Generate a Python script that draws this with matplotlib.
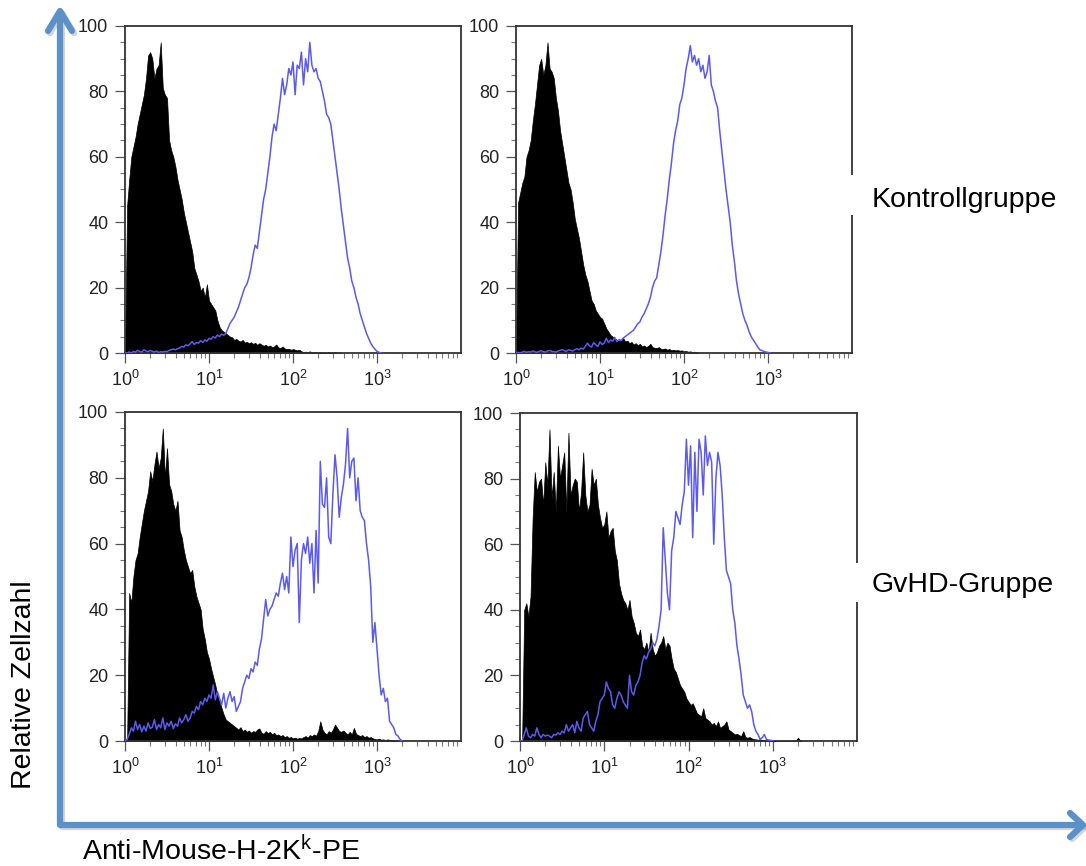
import numpy as np
import matplotlib
matplotlib.use("Agg")
import matplotlib.pyplot as plt
from matplotlib.ticker import FixedLocator, FixedFormatter, LogLocator, MultipleLocator, NullFormatter
from matplotlib.patches import Rectangle
import matplotlib.patheffects as pe

plt.rcParams["font.family"] = ["Liberation Sans", "DejaVu Sans"]
plt.rcParams["mathtext.fontset"] = "custom"
plt.rcParams["mathtext.rm"] = "Liberation Sans"
plt.rcParams["mathtext.it"] = "Liberation Sans:italic"
plt.rcParams["xtick.labelsize"] = 13
plt.rcParams["ytick.labelsize"] = 13

# histogram channels: 40 channels per decade, channel 0 sits at 10^0
CHANNELS_PER_DECADE = 40

# --- Kontrollgruppe, tier 1 ---
ctrl_a_isotype = [
    0, 45, 53, 60, 63, 66, 70, 73, 76, 79,
    84, 91, 92, 90, 84, 87, 88, 95, 81, 79,
    78, 65, 62, 60, 57, 53, 50, 47, 43, 40,
    37, 34, 31, 26, 24, 22, 19, 20, 17, 21,
    16, 15, 14, 13, 10, 8, 7, 6.5, 6, 5.5,
    5, 4.8, 4, 4.3, 3.8, 3.5, 4, 3.2, 3.4, 3,
    3.3, 2.8, 3.1, 2.5, 3, 2.6, 2.2, 2.5, 2, 2.3,
    1.8, 2, 2.6, 1.7, 1.5, 2, 1.4, 1.2, 1.3, 1,
    1.2, 1, 0.8, 1, 0.5, 0.3, 0.4, 0.3, 0.5, 0.2,
    0.3, 0.2, 0.1, 0.3, 0.1, 0.2, 0.1, 0.3, 0.1, 0.2,
    0.3, 0.1, 0.2, 0,
]
ctrl_a_h2kk = [
    0, 0, 0.3, 0, 0.5, 0.3, 0.8, 0.5, 0.3, 1,
    0.6, 0.4, 0.8, 0.5, 0.3, 0.6, 0.2, 0.4, 0.3, 0.5,
    0.4, 0.8, 1, 1.2, 1, 1.3, 1.5, 2, 1.8, 2.5,
    2.2, 2.8, 3.5, 2.6, 3.2, 3, 3.8, 3.2, 4, 3.6,
    4.5, 4.2, 5, 4.6, 5.5, 5, 5.8, 5.4, 6, 7.5,
    9, 10, 11, 12.5, 14, 16, 18, 20, 21, 23,
    26, 30, 33, 32, 37, 42, 47, 50, 55, 60,
    66, 70, 68, 73, 78, 84, 79, 82, 87, 85,
    89, 79, 88, 87, 92, 82, 90, 86, 95, 88,
    86, 87, 84, 83, 80, 77, 73, 72, 70, 65,
    60, 55, 50, 44, 39, 34, 29, 26, 22, 20,
    17, 15, 12, 10, 8, 6, 4.5, 3, 2, 1.2,
    0.5, 0.2, 0,
]

# --- Kontrollgruppe, tier 2 ---
ctrl_b_isotype = [
    0, 46, 49, 52, 54, 60, 62, 65, 71, 76,
    82, 88, 90, 85, 88, 95, 87, 86, 84, 78,
    74, 68, 64, 60, 56, 52, 50, 46, 41, 38,
    35, 31, 27, 24, 22, 19, 16, 15, 13, 12,
    11, 10.5, 9, 7.5, 6.5, 5.5, 5, 4.5, 4, 4.2,
    3.8, 4.6, 3.5, 3.8, 3, 3.4, 2.6, 3, 2.4, 2.8,
    2, 2.3, 1.8, 2.2, 2.8, 1.8, 1.6, 1.5, 1.8, 1.3,
    1.2, 1.4, 1, 1.2, 0.9, 1, 0.8, 0.9, 0.7, 0.8,
    0.5, 0.6, 0.4, 0.5, 0.3, 0.4, 0.2, 0,
]
ctrl_b_h2kk = [
    0, 0.2, 0, 0.3, 0.5, 0.2, 0.4, 0.3, 0.6, 0.4,
    0.2, 0.5, 0.7, 0.4, 0.3, 0.6, 0.8, 0.5, 0.4, 0.3,
    0.6, 0.8, 1, 0.7, 0.5, 1, 0.8, 0.6, 1, 1.3,
    1, 1.5, 1.2, 2, 3, 2.2, 1.8, 3.2, 2.5, 2,
    3.4, 2.6, 3, 4.5, 3.2, 4, 3.6, 4.8, 3.5, 4,
    3.8, 4.5, 5, 5.5, 6, 6.5, 7, 8, 9, 9.5,
    11, 12, 13.5, 15, 17, 20, 22, 23, 27, 31,
    36, 42, 47, 53, 58, 64, 68, 71, 76, 78,
    82, 87, 90, 94, 89, 91, 88, 90, 86, 88,
    84, 86, 91, 82, 80, 77, 75, 68, 62, 56,
    50, 45, 40, 33, 28, 22, 18, 15, 12, 10,
    8.5, 6.5, 5, 4, 3, 2, 1, 0.8, 0.5, 0.3,
    0.2, 0,
]

# --- GvHD-Gruppe, tier 1 ---
gvhd_a_isotype = [
    0, 0, 45, 42, 50, 55, 57, 62, 66, 70,
    73, 76, 82, 79, 84, 88, 83, 86, 95, 80,
    89, 78, 76, 72, 70, 73, 64, 62, 58, 55,
    53, 51, 52, 47, 44, 42, 40, 34, 31, 27,
    25, 22, 19.5, 17, 14, 12, 10, 8, 6.5, 6,
    5.5, 5, 4.5, 4, 3.5, 4.2, 3, 3.5, 2.8, 3.2,
    2.5, 3, 2.8, 3.5, 3.8, 2.5, 2.2, 3, 2.4, 2.8,
    2, 2.5, 1.8, 2, 1.5, 1.8, 1.2, 1.5, 1, 1.2,
    0.8, 1, 0.7, 0.9, 0.8, 1.2, 1.5, 1, 1.8, 1.5,
    2, 1.6, 3, 6, 3.5, 2.5, 2, 3, 2.5, 3.5,
    5, 4, 3, 2.8, 3.2, 2.5, 2, 2.8, 2, 4,
    2.2, 1.8, 1.5, 1.8, 1.2, 1.5, 1, 1.2, 0.8, 0.6,
    0.5, 0.7, 0.4, 0.5, 0.3, 0.5, 0.3, 0.2, 0.3, 0.2,
    0,
]
gvhd_a_h2kk = [
    0, 0.5, 2, 4, 3, 6, 3.5, 5, 2.8, 4.5,
    3, 5.5, 3.8, 4.2, 6.5, 3.5, 5, 4, 7, 3.5,
    5.5, 4.5, 6, 3.8, 5.2, 4.5, 7, 5.5, 6.5, 8,
    6, 7, 9, 8.5, 10.5, 9.5, 12, 11, 13, 12,
    14, 13, 17, 12.5, 15, 13, 11, 14.5, 10, 13,
    15, 12, 13.5, 9, 10.5, 12, 16, 18, 20, 19,
    22, 21, 24, 23, 28, 31, 37, 43, 38, 40,
    41, 43, 45, 44, 48, 51, 46, 50, 45, 62,
    53, 58, 60, 36, 55, 60, 57, 62, 54, 60,
    45, 64, 48, 85, 72, 71, 80, 62, 60, 75,
    87, 80, 68, 74, 78, 84, 95, 80, 85, 86,
    73, 80, 70, 68, 67, 60, 55, 47, 30, 36,
    28, 20, 14, 16, 12, 13, 6, 5, 4, 2,
    1.5, 0.5, 0,
]

# --- GvHD-Gruppe, tier 2 ---
gvhd_b_isotype = [
    0, 0, 40, 42, 38, 44, 68, 82, 76, 79,
    80, 72, 85, 78, 95, 74, 82, 70, 90, 80,
    84, 88, 70, 94, 75, 78, 80, 79, 70, 76,
    88, 75, 70, 72, 83, 78, 80, 72, 68, 65,
    66, 70, 62, 64, 65, 58, 55, 48, 45, 43,
    42, 40, 43, 38, 36, 33, 32, 34, 29, 28,
    30, 27, 33, 28, 26, 27, 29, 30, 32, 28,
    30, 29, 25, 22, 21, 19, 17, 16, 15, 13,
    12, 11, 11.5, 10, 8.5, 8, 7.5, 10, 7, 6.5,
    6, 5, 5.5, 4.5, 6, 4, 4.5, 5, 6, 3.5,
    3, 2.5, 2, 2.2, 1.8, 1.5, 3, 1.2, 1, 1.2,
    0.8, 0.6, 0.5, 0.4, 0.5, 0.3, 0.3, 0.2, 0.3, 0.2,
    0.1, 0.1, 0, 0, 0, 0, 0, 0, 0, 0,
    0, 0.2, 1, 0.2, 0,
]
gvhd_b_h2kk = [
    0, 0, 2, 4, 1.5, 1, 2, 1.5, 4, 2,
    1, 2, 1.5, 1.8, 1.5, 1, 2, 1.8, 2.5, 2,
    3, 2.5, 5, 3, 4, 5, 2.5, 6, 4, 3,
    7, 8, 9, 5, 4, 3, 6, 8, 12, 13,
    14, 18, 16, 15, 11, 10, 13, 15, 14, 12,
    11, 10, 20, 15, 14, 17, 18, 20, 24, 26,
    25, 27, 28, 30, 29, 31, 35, 40, 65, 55,
    45, 40, 58, 62, 70, 68, 66, 72, 76, 92,
    78, 90, 62, 88, 70, 92, 88, 75, 93, 84,
    88, 85, 60, 80, 88, 84, 75, 62, 52, 50,
    48, 40, 36, 29, 25, 20, 14, 12, 10, 11,
    9, 5, 3, 2, 0.5, 1, 2, 0.5, 0.3, 0.2,
    0,
]

x_tick_values = [1, 10, 100, 1000]
x_tick_labels = [r"$\mathregular{10^{0}}$", r"$\mathregular{10^{1}}$",
                 r"$\mathregular{10^{2}}$", r"$\mathregular{10^{3}}$"]
y_tick_values = [0, 20, 40, 60, 80, 100]

group_labels = ["Kontrollgruppe", "GvHD-Gruppe"]
y_title = "Relative Zellzahl"
x_title = r"Anti-Mouse-H-2K$^{\mathregular{k}}$-PE"

STAIN_BLUE = "#5A5AF0"
ARROW_BLUE = "#5A91CB"
FRAME = "#333333"

W, H = 1086, 866
fig = plt.figure(figsize=(W / 100, H / 100), dpi=100)


def px_axes(left, top, right, bottom):
    return fig.add_axes([left / W, 1 - bottom / H, (right - left) / W, (bottom - top) / H])


def channel_axis(values):
    return 10 ** (np.arange(len(values)) / CHANNELS_PER_DECADE)


def draw_panel(ax, isotype, stained):
    ax.fill_between(channel_axis(isotype), isotype, 0, color="black", linewidth=0.5, zorder=2)
    ax.plot(channel_axis(stained), stained, color=STAIN_BLUE, linewidth=1.1, zorder=3)
    ax.set_xscale("log")
    ax.set_xlim(1, 1e4)
    ax.set_ylim(0, 100)
    ax.xaxis.set_major_locator(FixedLocator(x_tick_values))
    ax.xaxis.set_major_formatter(FixedFormatter(x_tick_labels))
    ax.xaxis.set_minor_locator(LogLocator(base=10, subs=np.arange(2, 10), numticks=20))
    ax.xaxis.set_minor_formatter(NullFormatter())
    ax.yaxis.set_major_locator(FixedLocator(y_tick_values))
    ax.yaxis.set_minor_locator(MultipleLocator(5))
    for s in ax.spines.values():
        s.set_color(FRAME)
        s.set_linewidth(1.3)
    ax.tick_params(which="major", direction="out", length=7, width=0.9, color="#555555",
                   labelcolor="#222222")
    ax.tick_params(which="minor", direction="out", length=3.5, width=0.8, color="#777777")
    ax.tick_params(axis="y", which="major", pad=5)
    ax.tick_params(axis="x", which="major", pad=5)
    for lab in ax.get_xticklabels() + ax.get_yticklabels():
        lab.set_fontsize(13)


panels = [
    (px_axes(125, 26, 461, 353), ctrl_a_isotype, ctrl_a_h2kk),
    (px_axes(516, 26, 852, 353), ctrl_b_isotype, ctrl_b_h2kk),
    (px_axes(125, 412, 461, 741), gvhd_a_isotype, gvhd_a_h2kk),
    (px_axes(520, 413, 857, 741), gvhd_b_isotype, gvhd_b_h2kk),
]
for ax, iso, st in panels:
    draw_panel(ax, iso, st)

# overlay in pixel coordinates for the axis arrows and titles
ov = fig.add_axes([0, 0, 1, 1], zorder=10)
ov.set_xlim(0, W)
ov.set_ylim(H, 0)
ov.axis("off")

shadow = [pe.SimpleLineShadow(offset=(1.5, -1.5), shadow_color="#888888", alpha=0.35), pe.Normal()]
arrow_kw = dict(color=ARROW_BLUE, linewidth=4.5, solid_capstyle="round",
                solid_joinstyle="round", path_effects=shadow)
ov.plot([60, 60, 1082], [12, 825, 825], **arrow_kw)
ov.plot([48, 60, 72], [31, 11, 31], **arrow_kw)
ov.plot([1070, 1083, 1070], [813, 825, 837], **arrow_kw)

# white label boxes interrupt the right-hand frames
ov.add_patch(Rectangle((850, 175), 225, 40, facecolor="white", edgecolor="none"))
ov.add_patch(Rectangle((855, 563), 220, 39, facecolor="white", edgecolor="none"))
ov.text(872, 207, group_labels[0], fontsize=20.5, ha="left", va="baseline", color="black")
ov.text(872, 592, group_labels[1], fontsize=20.5, ha="left", va="baseline", color="black")

ov.text(24, 685, y_title, fontsize=20.5, rotation=90, ha="center", va="center", color="black")
ov.text(82, 860, x_title, fontsize=20.5, ha="left", va="baseline", color="black")

fig.savefig("out.png", dpi=100, facecolor="white")
